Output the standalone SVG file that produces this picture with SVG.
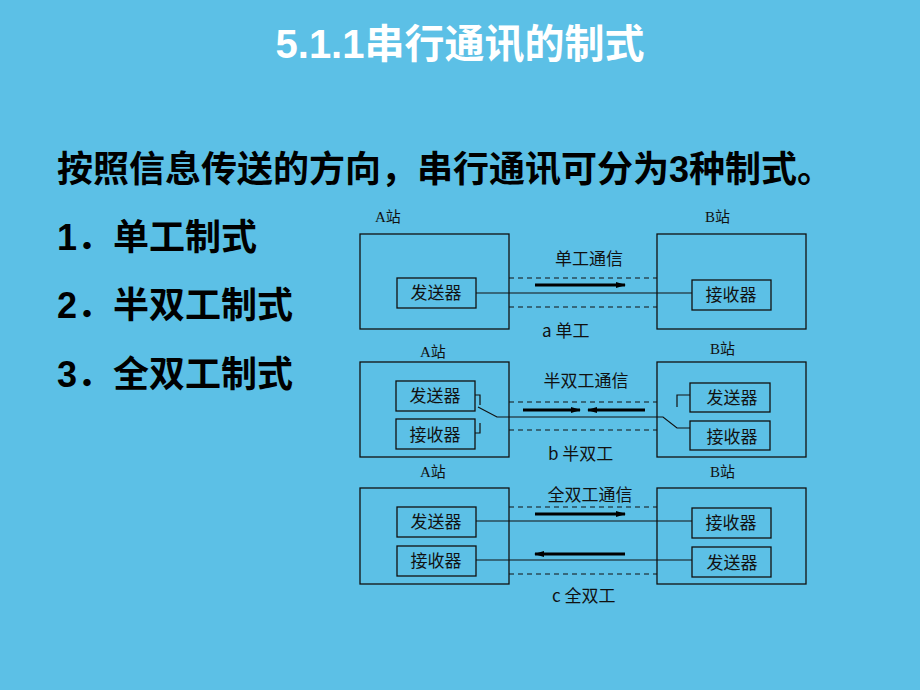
<svg xmlns="http://www.w3.org/2000/svg" width="920" height="690" viewBox="0 0 920 690">
<defs>
<marker id="ah" markerWidth="10" markerHeight="6" refX="9" refY="3" orient="auto" markerUnits="userSpaceOnUse"><path d="M0,0 L10,3 L0,6 Z" fill="#000"/></marker>
<style>
.big{fill:none;stroke:#111;stroke-width:1.3}
.box{fill:none;stroke:#111;stroke-width:1.3}
.t{font-family:"Noto Sans CJK SC","Liberation Sans",sans-serif;font-size:17px;fill:#111}
.s{font-family:"Liberation Serif","Noto Sans CJK SC",serif;font-size:15px;fill:#111}
.d{stroke:#111;stroke-width:1.2;stroke-dasharray:5,4;fill:none}
.w{stroke:#111;stroke-width:1.2;fill:none}
.ar{stroke:#000;stroke-width:3;fill:none;marker-end:url(#ah)}
.h{font-family:"Liberation Sans","Noto Sans CJK SC",sans-serif;font-weight:bold;font-size:36px;fill:#000}
</style>
</defs>
<rect width="920" height="690" fill="#5cc0e6"/>
<text x="460" y="58" text-anchor="middle" font-family="Liberation Sans, Noto Sans CJK SC, sans-serif" font-weight="bold" font-size="40" fill="#fff">5.1.1串行通讯的制式</text>
<text class="h" x="57" y="182">按照信息传送的方向，串行通讯可分为3种制式。</text>
<text class="h" x="57" y="250">1．单工制式</text>
<text class="h" x="57" y="318">2．半双工制式</text>
<text class="h" x="57" y="387">3．全双工制式</text>

<g id="panel-a">
<text class="s" x="375" y="222">A站</text><text class="s" x="705" y="222">B站</text>
<rect class="big" x="360" y="234" width="149" height="95"/>
<rect class="big" x="657" y="234" width="149" height="95"/>
<rect class="box" x="397" y="278" width="79" height="30"/><text class="t" x="436" y="299" text-anchor="middle">发送器</text>
<rect class="box" x="692" y="280" width="79" height="30"/><text class="t" x="731" y="301" text-anchor="middle">接收器</text>
<text class="t" x="589" y="265" text-anchor="middle">单工通信</text>
<text class="t" x="542" y="337">a  单工</text>
</g>
<g id="panel-b">
<text class="s" x="420" y="357">A站</text><text class="s" x="710" y="354">B站</text>
<rect class="big" x="360" y="362" width="149" height="95"/>
<rect class="big" x="657" y="362" width="149" height="95"/>
<rect class="box" x="396" y="381" width="79" height="30"/><text class="t" x="435" y="402" text-anchor="middle">发送器</text>
<rect class="box" x="396" y="419" width="79" height="30"/><text class="t" x="435" y="441" text-anchor="middle">接收器</text>
<rect class="box" x="690" y="383" width="80" height="29"/><text class="t" x="732" y="404" text-anchor="middle">发送器</text>
<rect class="box" x="690" y="421" width="80" height="29"/><text class="t" x="732" y="443" text-anchor="middle">接收器</text>
<text class="t" x="586" y="387" text-anchor="middle">半双工通信</text>
<text class="t" x="548" y="460">b 半双工</text>
</g>
<g id="panel-c">
<text class="s" x="420" y="477">A站</text><text class="s" x="710" y="477">B站</text>
<rect class="big" x="360" y="488" width="149" height="96"/>
<rect class="big" x="657" y="488" width="149" height="96"/>
<rect class="box" x="397" y="507" width="79" height="30"/><text class="t" x="436" y="528" text-anchor="middle">发送器</text>
<rect class="box" x="397" y="546" width="79" height="30"/><text class="t" x="436" y="567" text-anchor="middle">接收器</text>
<rect class="box" x="692" y="508" width="79" height="30"/><text class="t" x="731" y="529" text-anchor="middle">接收器</text>
<rect class="box" x="692" y="547" width="79" height="30"/><text class="t" x="732" y="569" text-anchor="middle">发送器</text>
<text class="t" x="590" y="501" text-anchor="middle">全双工通信</text>
<text class="t" x="552" y="602">c 全双工</text>
</g>
<g id="connectors">
<line class="d" x1="509" y1="278" x2="657" y2="278"/><line class="d" x1="509" y1="307" x2="657" y2="307"/>
<line class="w" x1="476" y1="293" x2="692" y2="293"/>
<line class="ar" x1="535" y1="285" x2="625" y2="285"/>

<line class="d" x1="509" y1="402" x2="657" y2="402"/><line class="d" x1="509" y1="430" x2="657" y2="430"/>
<polyline class="w" points="475,395 480,395 480,405"/>
<polyline class="w" points="478,407 497,417 663,417 677,428 690,428"/>
<polyline class="w" points="475,433 480,433 480,423"/>
<polyline class="w" points="677,407 677,395 690,395"/>
<line class="ar" x1="523" y1="410" x2="580" y2="410"/>
<line class="ar" x1="645" y1="410" x2="588" y2="410"/>

<line class="d" x1="509" y1="507" x2="657" y2="507"/><line class="d" x1="509" y1="574" x2="657" y2="574"/>
<line class="w" x1="476" y1="521" x2="692" y2="521"/>
<line class="w" x1="476" y1="560" x2="692" y2="560"/>
<line class="ar" x1="535" y1="514" x2="625" y2="514"/>
<line class="ar" x1="625" y1="554" x2="535" y2="554"/>
</g>
</svg>
